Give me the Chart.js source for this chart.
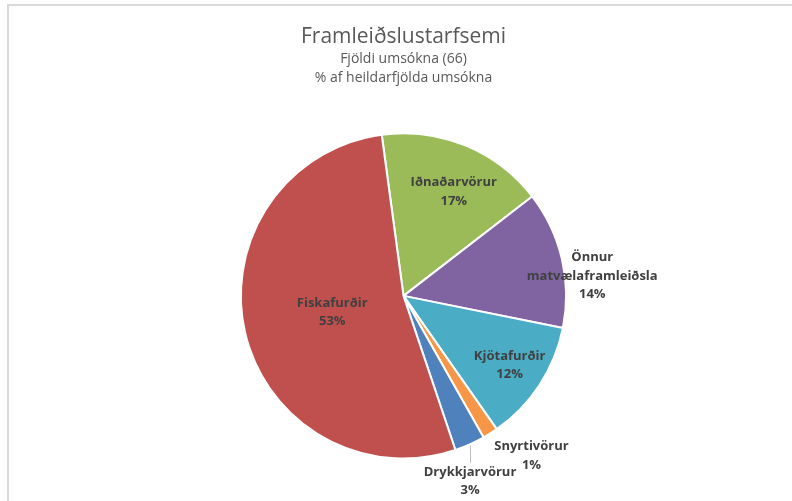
<!DOCTYPE html>
<html><head><meta charset="utf-8">
<script src="https://cdn.jsdelivr.net/npm/chart.js@4/dist/chart.umd.min.js"></script>
<style>html,body{margin:0;padding:0;background:#fff;overflow:hidden}#wrap{width:792px;height:501px;position:relative}</style>
</head><body><div id="wrap"><canvas id="c"></canvas></div>
<script>
// ---- data ----
const categories = ['Iðnaðarvörur', 'Önnur matvælaframleiðsla', 'Kjötafurðir', 'Snyrtivörur', 'Drykkjarvörur', 'Fiskafurðir'];
const applications = [11, 9, 8, 1, 2, 35];
const percentLabels = ['17%', '14%', '12%', '1%', '3%', '53%'];
const titleText = 'Framleiðslustarfsemi';
const subtitleLines = ['Fjöldi umsókna (66)', '% af heildarfjölda umsókna'];

// ---- style ----
const colors = ['#9BBB59', '#8064A2', '#4BACC6', '#F79646', '#4F81BD', '#C0504D'];
// label placement: radius factor and angular shift (deg) from slice middle
const labelDist = [0.71, 1.167, 0.78, 1.26, 1.21, 0.45];
const labelShift = [3.5, 7.2, 0, -6.4, 4.3, 0];
const leaderIdx = 4;
const FONT = '"Open Sans", "DejaVu Sans", sans-serif';

const framePlugin = {
  id: 'frame',
  beforeDraw(chart) {
    const ctx = chart.ctx;
    ctx.save();
    ctx.strokeStyle = '#d9d9d9';
    ctx.lineWidth = 2;
    ctx.beginPath();
    ctx.moveTo(792, 5); ctx.lineTo(8, 5); ctx.lineTo(8, 501);
    ctx.stroke();
    ctx.restore();
  }
};

const labelPlugin = {
  id: 'sliceLabels',
  afterDatasetsDraw(chart) {
    const ctx = chart.ctx;
    const meta = chart.getDatasetMeta(0);
    ctx.save();
    ctx.font = 'bold 13px ' + FONT;
    ctx.fillStyle = '#404040';
    ctx.textAlign = 'center';
    ctx.textBaseline = 'middle';
    const lh = 18.5;
    meta.data.forEach((arc, i) => {
      const p = arc.getProps(['x', 'y', 'outerRadius', 'startAngle', 'endAngle'], true);
      const midRaw = (p.startAngle + p.endAngle) / 2;
      const mid = midRaw + labelShift[i] * Math.PI / 180;
      const rr = p.outerRadius * labelDist[i];
      const cx = p.x + Math.cos(mid) * rr;
      const cy = p.y + Math.sin(mid) * rr;
      const lines = categories[i].split(' ').concat([percentLabels[i]]);
      const top = cy - (lines.length - 1) * lh / 2;
      lines.forEach((t, k) => ctx.fillText(t, cx, top + k * lh));
      if (i === leaderIdx) {
        const ex = p.x + Math.cos(midRaw) * p.outerRadius;
        const ey = p.y + Math.sin(midRaw) * p.outerRadius;
        ctx.save();
        ctx.strokeStyle = '#bfbfbf';
        ctx.lineWidth = 1;
        ctx.beginPath();
        ctx.moveTo(Math.round(ex) + 0.5, ey + 1);
        ctx.lineTo(Math.round(ex) + 0.5, top - 9);
        ctx.stroke();
        ctx.restore();
      }
    });
    ctx.restore();
  }
};

new Chart(document.getElementById('c'), {
  type: 'pie',
  data: {
    labels: categories,
    datasets: [{
      data: applications,
      backgroundColor: colors,
      borderColor: '#ffffff',
      borderWidth: 2
    }]
  },
  options: {
    responsive: true,
    maintainAspectRatio: false,
    animation: false,
    events: [],
    rotation: -7.7,
    layout: { padding: { left: 15, right: 0, top: 0, bottom: 41.5 } },
    plugins: {
      legend: { display: false },
      tooltip: { enabled: false },
      title: {
        display: true,
        text: titleText,
        color: '#595959',
        font: { family: FONT, size: 21, weight: 'normal', lineHeight: 1.2 },
        padding: { top: 24, bottom: 0 }
      },
      subtitle: {
        display: true,
        text: subtitleLines,
        color: '#595959',
        font: { family: FONT, size: 14, weight: 'normal', lineHeight: 1.36 },
        padding: { top: 0, bottom: 45 }
      }
    }
  },
  plugins: [framePlugin, labelPlugin]
});
</script>
</body></html>
